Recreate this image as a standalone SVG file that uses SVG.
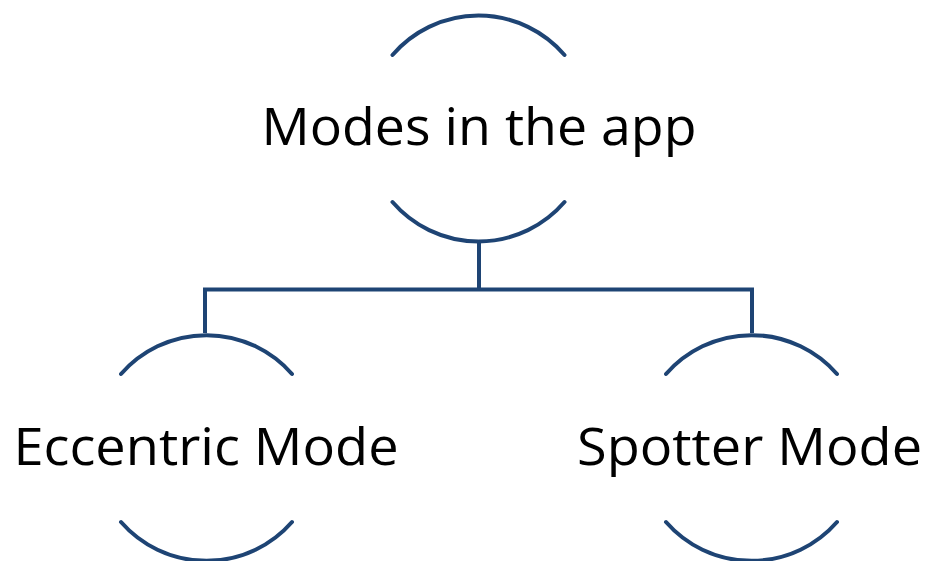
<svg xmlns="http://www.w3.org/2000/svg" width="929" height="561" viewBox="0 0 929 561">
<style>
.arc{fill:none;stroke:#1E4474;stroke-width:4;stroke-linecap:round}
.conn{fill:none;stroke:#1E4474;stroke-width:4}
.lbl{font-family:"Open Sans","Noto Sans","Liberation Sans",sans-serif;font-size:51px;fill:#000;text-anchor:middle}
</style>
<rect width="929" height="561" fill="#fff"/>
<g id="connectors">
<path class="conn" d="M479 242 V289.5 M205 289.5 H752 M205 287.5 V333 M752 287.5 V333"/>
</g>
<g id="node-top">
<path class="arc" d="M392.5 55 A113.5 113.5 0 0 1 564.5 55"/>
<path class="arc" d="M392.5 202 A113.5 113.5 0 0 0 564.5 202"/>
<text class="lbl" x="479" y="145" textLength="435" lengthAdjust="spacingAndGlyphs">Modes in the app</text>
</g>
<g id="node-eccentric">
<path class="arc" d="M121 374 A113.5 113.5 0 0 1 292 374"/>
<path class="arc" d="M121 522 A113.5 113.5 0 0 0 292 522"/>
<text class="lbl" x="206" y="465" textLength="385" lengthAdjust="spacingAndGlyphs">Eccentric Mode</text>
</g>
<g id="node-spotter">
<path class="arc" d="M666 374 A113.5 113.5 0 0 1 837 374"/>
<path class="arc" d="M666 522 A113.5 113.5 0 0 0 837 522"/>
<text class="lbl" x="749.5" y="465" textLength="345" lengthAdjust="spacingAndGlyphs">Spotter Mode</text>
</g>
</svg>
